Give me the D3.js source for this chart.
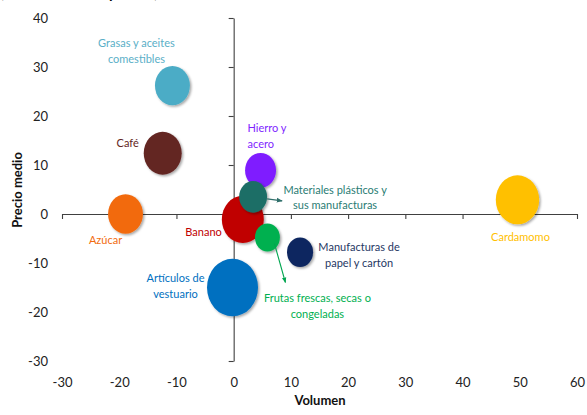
<!DOCTYPE html>
<html>
<head>
<meta charset="utf-8">
<script src="https://cdn.jsdelivr.net/npm/d3@7"></script>
<style>
  html, body { margin: 0; padding: 0; background: #fff; }
  svg { display: block; }
  text { font-family: Lato, "Open Sans", sans-serif; }
</style>
</head>
<body>
<svg id="chart" width="587" height="415"></svg>
<script>
// Products: volume change (x), average price change (y), bubble size (share)
const products = ["Grasas y aceites comestibles", "Café", "Azúcar", "Hierro y acero",
  "Materiales plásticos y sus manufacturas", "Banano", "Frutas frescas, secas o congeladas",
  "Manufacturas de papel y cartón", "Artículos de vestuario", "Cardamomo"];
const volumen = [-10.7, -12.4, -18.9, 4.7, 3.4, 1.6, 5.9, 11.6, -0.2, 49.6];
const precio = [26.2, 12.4, 0.0, 8.9, 3.5, -1.1, -4.8, -7.8, -15.0, 2.9];
const tamano = [12.2, 14.4, 12.2, 9.6, 7.8, 17.6, 6.2, 6.8, 26.0, 18.8];
const fillColors = ["#4BACC6", "#632523", "#F26B0F", "#7F1FFF", "#1B6E66", "#C00000",
  "#00B050", "#0C2660", "#0070C0", "#FFC000"];
const labelColors = ["#5AAFC7", "#632523", "#F26B0F", "#7F1FFF", "#2A7C73", "#C00000",
  "#00B050", "#1F3864", "#0070C0", "#FFC000"];
// label lines, placement (offsets in px from the bubble centre) and text anchor
const labelLines = [["Grasas y aceites", "comestibles"], ["Café"], ["Azúcar"], ["Hierro y", "acero"],
  ["Materiales plásticos y", "sus manufacturas"], ["Banano"], ["Frutas frescas, secas o", "congeladas"],
  ["Manufacturas de", "papel y cartón"], ["Artículos de", "vestuario"], ["Cardamomo"]];
const labelDx = [-36, -35, -20, -13, 82, -21, 50, 59, -57, 3];
const labelDy = [-42, -10, 26, -42, -7, 13, 61, -5, -9, 37];
const labelAnchor = ["middle", "middle", "middle", "start", "middle", "end", "middle", "middle", "middle", "middle"];
const xTicks = [-30, -20, -10, 0, 10, 20, 30, 40, 50, 60];
const yTicks = [-30, -20, -10, 0, 10, 20, 30, 40];

const svg = d3.select("#chart");
const x = d3.scaleLinear().domain([-30, 60]).range([62, 577]);
const y = d3.scaleLinear().domain([-30, 40]).range([361, 18]);
const r = d3.scaleSqrt().domain([0, d3.max(tamano)]).range([0, 25.5]);
const ASPECT = 1.13; // bubbles are drawn slightly taller than wide

const defs = svg.append("defs");
const f = defs.append("filter").attr("id", "shadow")
  .attr("x", "-30%").attr("y", "-30%").attr("width", "160%").attr("height", "160%");
f.append("feDropShadow").attr("dx", 1.5).attr("dy", 1.5).attr("stdDeviation", 1.3)
  .attr("flood-color", "#000").attr("flood-opacity", 0.35);
[["arrTeal", "#2F6F6A"], ["arrGreen", "#00A550"]].forEach(([id, c]) => {
  defs.append("marker").attr("id", id).attr("viewBox", "0 0 10 10")
    .attr("refX", 9).attr("refY", 5).attr("markerWidth", 5).attr("markerHeight", 5)
    .attr("orient", "auto")
    .append("path").attr("d", "M0,1 L10,5 L0,9 Z").attr("fill", c);
});

// heading, mostly above the top edge of the page
svg.append("text").attr("x", 0).attr("y", -2)
  .attr("font-size", 15).attr("font-weight", "bold").attr("fill", "#000")
  .text("(Variación 2011 y 2012)");

const x0 = x(0), y0 = y(0);
const axisColor = "#404040";
const fmt = d => String(d);

// horizontal axis through y = 0, labels placed below the plot
const gx = svg.append("g").attr("transform", `translate(0,${y0})`)
  .call(d3.axisBottom(x).tickValues(xTicks).tickSizeInner(5).tickSizeOuter(0).tickFormat(fmt));
gx.selectAll("text").attr("y", 383 - y0).attr("dy", "0.32em")
  .attr("font-size", 13).attr("fill", "#222").attr("font-family", "Lato, sans-serif");

// vertical axis through x = 0, labels placed left of the plot
const gy = svg.append("g").attr("transform", `translate(${x0},0)`)
  .call(d3.axisLeft(y).tickValues(yTicks).tickSizeInner(5).tickSizeOuter(0).tickFormat(fmt));
gy.selectAll("text").attr("x", 48 - x0)
  .attr("font-size", 13).attr("fill", "#222").attr("font-family", "Lato, sans-serif");

svg.selectAll(".domain, .tick line").attr("stroke", axisColor).attr("stroke-width", 1.1);

// axis titles
svg.append("text").attr("x", 320).attr("y", 405).attr("text-anchor", "middle")
  .attr("font-size", 13).attr("font-weight", "bold").attr("fill", "#111").text("Volumen");
svg.append("text").attr("transform", "translate(22,190) rotate(-90)").attr("text-anchor", "middle")
  .attr("font-size", 13).attr("font-weight", "bold").attr("fill", "#111").text("Precio medio");

// bubbles, in stacking order
const order = [0, 1, 2, 3, 5, 4, 6, 7, 8, 9];
svg.append("g").selectAll("ellipse").data(order).join("ellipse")
  .attr("cx", i => x(volumen[i]))
  .attr("cy", i => y(precio[i]))
  .attr("rx", i => r(tamano[i]))
  .attr("ry", i => r(tamano[i]) * ASPECT)
  .attr("fill", i => fillColors[i])
  .attr("filter", "url(#shadow)");

// leader arrows
svg.append("line").attr("x1", x(volumen[4]) + 14).attr("y1", y(precio[4]) + 2)
  .attr("x2", x(volumen[4]) + 29).attr("y2", y(precio[4]) + 4)
  .attr("stroke", "#2F6F6A").attr("stroke-width", 1.2).attr("marker-end", "url(#arrTeal)");
svg.append("line").attr("x1", x(volumen[6]) + 7).attr("y1", y(precio[6]) + 6)
  .attr("x2", x(volumen[6]) + 18).attr("y2", y(precio[6]) + 45)
  .attr("stroke", "#00A550").attr("stroke-width", 1.1).attr("marker-end", "url(#arrGreen)");

// labels
const lg = svg.append("g");
products.forEach((p, i) => {
  const t = lg.append("text")
    .attr("x", x(volumen[i]) + labelDx[i])
    .attr("y", y(precio[i]) + labelDy[i])
    .attr("text-anchor", labelAnchor[i])
    .attr("font-size", 11)
    .attr("fill", labelColors[i]);
  labelLines[i].forEach((line, k) => {
    t.append("tspan").attr("x", x(volumen[i]) + labelDx[i])
      .attr("dy", k === 0 ? "0.35em" : "15.5").text(line);
  });
});
</script>
</body>
</html>
